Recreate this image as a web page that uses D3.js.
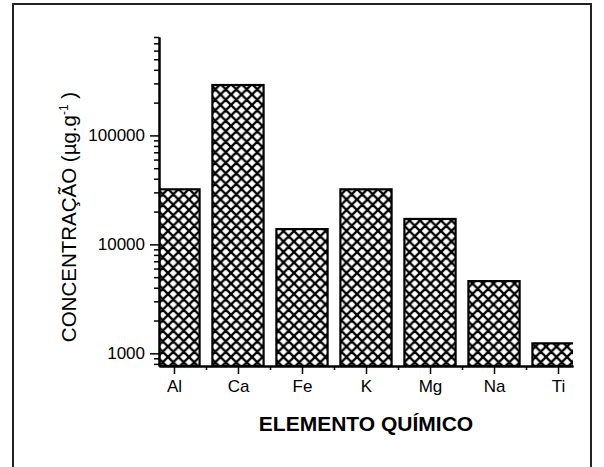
<!DOCTYPE html>
<html>
<head>
<meta charset="utf-8">
<script src="https://cdn.jsdelivr.net/npm/d3@7/dist/d3.min.js"></script>
<style>
  body { margin: 0; background: #fff; }
  svg text { font-family: "Liberation Sans", Arial, sans-serif; fill: #000; }
</style>
</head>
<body>
<svg id="chart" width="604" height="467"></svg>
<script>
// valores (escala log)
var elementos = ["Al", "Ca", "Fe", "K", "Mg", "Na", "Ti"];
var concentracoes = [32000, 290000, 13800, 32000, 17100, 4600, 1235];
var yMajorTicks = [1000, 10000, 100000];
var yMinorTicks = [800, 900, 2000, 3000, 4000, 5000, 6000, 7000, 8000, 9000,
  20000, 30000, 40000, 50000, 60000, 70000, 80000, 90000,
  200000, 300000, 400000, 500000, 600000, 700000, 800000];

var svg = d3.select("#chart");

var plot = { left: 159, right: 573, top: 37, bottom: 366 };

// moldura externa
svg.append("rect")
  .attr("x", 13)
  .attr("y", 4)
  .attr("width", 578)
  .attr("height", 490)
  .attr("fill", "none")
  .attr("stroke", "#222")
  .attr("stroke-width", 2);

var x = d3.scaleLinear()
  .domain([0.766, 7.234])
  .range([plot.left, plot.right]);

var y = d3.scaleLog()
  .domain([765, 800000])
  .range([plot.bottom, plot.top]);

var defs = svg.append("defs");

var hatch = defs.append("pattern")
  .attr("id", "hatch")
  .attr("patternUnits", "userSpaceOnUse")
  .attr("width", 10.5)
  .attr("height", 10.5);
hatch.append("rect")
  .attr("width", 10.5)
  .attr("height", 10.5)
  .attr("fill", "#fff");
hatch.append("path")
  .attr("d", "M0,0L10.5,10.5M10.5,0L0,10.5M-1,9.5L1,11.5M9.5,-1L11.5,1M-1,1L1,-1M9.5,11.5L11.5,9.5")
  .attr("stroke", "#000")
  .attr("stroke-width", 2.3);

defs.append("clipPath")
  .attr("id", "plotClip")
  .append("rect")
  .attr("x", plot.left)
  .attr("y", plot.top - 5)
  .attr("width", plot.right - plot.left)
  .attr("height", plot.bottom - plot.top + 5);

var barW = 0.8;

svg.append("g")
  .attr("clip-path", "url(#plotClip)")
  .selectAll("rect")
  .data(concentracoes)
  .enter().append("rect")
  .attr("x", function(d, i) { return x(i + 1 - barW / 2); })
  .attr("width", function(d, i) { return x(i + 1 + barW / 2) - x(i + 1 - barW / 2); })
  .attr("y", function(d) { return y(d); })
  .attr("height", function(d) { return plot.bottom - y(d); })
  .attr("fill", "url(#hatch)")
  .attr("stroke", "#000")
  .attr("stroke-width", 2.2);

// eixo x
var xAxis = d3.axisBottom(x)
  .tickValues(d3.range(1, elementos.length + 1))
  .tickFormat(function(d) { return elementos[d - 1]; })
  .tickSize(8)
  .tickSizeOuter(0)
  .tickPadding(6);

var xMinor = d3.axisBottom(x)
  .tickValues(d3.range(1.5, elementos.length, 1))
  .tickFormat("")
  .tickSize(4)
  .tickSizeOuter(0);

svg.append("g")
  .attr("transform", "translate(0," + plot.bottom + ")")
  .call(xAxis);
svg.append("g")
  .attr("transform", "translate(0," + plot.bottom + ")")
  .call(xMinor);

// eixo y
var yAxis = d3.axisLeft(y)
  .tickValues(yMajorTicks)
  .tickFormat(d3.format("d"))
  .tickSize(9)
  .tickSizeOuter(0)
  .tickPadding(5);

var yMinor = d3.axisLeft(y)
  .tickValues(yMinorTicks)
  .tickFormat("")
  .tickSize(5)
  .tickSizeOuter(0);

svg.append("g")
  .attr("transform", "translate(" + plot.left + ",0)")
  .call(yAxis);
svg.append("g")
  .attr("transform", "translate(" + plot.left + ",0)")
  .call(yMinor);

svg.selectAll(".domain")
  .attr("stroke", "#000")
  .attr("stroke-width", 2);
svg.selectAll(".tick line")
  .attr("stroke", "#000")
  .attr("stroke-width", 1.5);
svg.selectAll(".tick text")
  .style("font-size", "17px")
  .style("font-family", "\"Liberation Sans\", Arial, sans-serif");

// titulos
svg.append("text")
  .attr("x", 366)
  .attr("y", 431)
  .attr("text-anchor", "middle")
  .style("font-size", "21px")
  .style("font-weight", "bold")
  .text("ELEMENTO QUÍMICO");

var yLabel = svg.append("text")
  .attr("transform", "translate(76,217) rotate(-90)")
  .attr("text-anchor", "middle")
  .style("font-size", "20.5px");
yLabel.append("tspan").text("CONCENTRAÇÃO (µg.g");
yLabel.append("tspan")
  .attr("dy", -8)
  .style("font-size", "12px")
  .text("-1");
yLabel.append("tspan")
  .attr("dy", 8)
  .text(" )");
</script>
</body>
</html>
